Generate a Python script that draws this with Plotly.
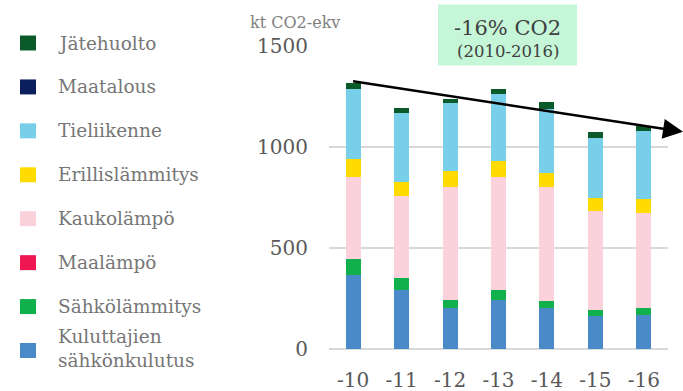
import plotly.graph_objects as go

# Emission categories (stack order bottom -> top) and yearly values, kt CO2-ekv
years = ["-10", "-11", "-12", "-13", "-14", "-15", "-16"]

kuluttajien_sahko = [368, 290, 201, 245, 201, 164, 169]
sahkolammitys = [80, 61, 41, 48, 36, 29, 32]
maalampo = [0, 0, 0, 0, 0, 0, 0]
kaukolampo = [404, 406, 561, 559, 563, 490, 474]
erillislammitys = [89, 72, 79, 78, 72, 66, 70]
tieliikenne = [347, 339, 337, 330, 317, 295, 336]
maatalous = [0, 0, 0, 0, 0, 0, 0]
jatehuolto = [31, 23, 21, 26, 33, 28, 21]

series = [
    ("Kuluttajien<br>sähkönkulutus", kuluttajien_sahko, "#4a8ac8"),
    ("Sähkölämmitys", sahkolammitys, "#10b04c"),
    ("Maalämpö", maalampo, "#ee1752"),
    ("Kaukolämpö", kaukolampo, "#fbd2dc"),
    ("Erillislämmitys", erillislammitys, "#ffdb00"),
    ("Tieliikenne", tieliikenne, "#78cfea"),
    ("Maatalous", maatalous, "#0b1f5e"),
    ("Jätehuolto", jatehuolto, "#0a5a2a"),
]

y_ticks = [0, 500, 1000, 1500]

W, H = 683, 391
L, R, T, B = 329, 15, 45.5, 42
PW, PH = W - L - R, H - T - B


def px_x(px):
    return (px - L) / PW


def px_y(py):
    return (H - B - py) / PH


SERIF = "DejaVu Serif"

fig = go.Figure()
for name, vals, color in series:
    fig.add_trace(go.Bar(
        x=years, y=vals, name=name,
        marker=dict(color=color, line=dict(width=0)),
        showlegend=False,
    ))

# Legend drawn as swatches + labels, top entry = top of stack
legend_top = 42.5
legend_step = 44
for i, (name, vals, color) in enumerate(reversed(series)):
    cy = legend_top + i * legend_step
    fig.add_shape(type="rect", xref="paper", yref="paper",
                  x0=px_x(20), x1=px_x(36), y0=px_y(cy + 7.5), y1=px_y(cy - 7.5),
                  fillcolor=color, line=dict(width=0), layer="above")
    ty = cy - 2.5 if "<br>" in name else cy
    fig.add_annotation(xref="paper", yref="paper", x=px_x(56), y=px_y(ty),
                       text=name, showarrow=False, xanchor="left", yanchor="middle",
                       align="left",
                       font=dict(family=SERIF, size=18.5, color="#767676"))

# Unit label
fig.add_annotation(xref="paper", yref="paper", x=px_x(248), y=px_y(21.5),
                   text="kt CO2-ekv", showarrow=False, xanchor="left", yanchor="middle",
                   font=dict(family=SERIF, size=16, color="#808080"))

# Change box
fig.add_shape(type="rect", xref="paper", yref="paper",
              x0=px_x(438), x1=px_x(577), y0=px_y(65), y1=px_y(4),
              fillcolor="#c6f6d8", line=dict(width=0), layer="above")
fig.add_annotation(xref="paper", yref="paper", x=px_x(507.5), y=px_y(27),
                   text="-16% CO2", showarrow=False, xanchor="center", yanchor="middle",
                   font=dict(family=SERIF, size=21, color="#404040"))
fig.add_annotation(xref="paper", yref="paper", x=px_x(507.5), y=px_y(51),
                   text="(2010-2016)", showarrow=False, xanchor="center", yanchor="middle",
                   font=dict(family=SERIF, size=16.5, color="#404040"))

# Trend arrow
fig.add_annotation(xref="x domain", yref="y domain", axref="x domain", ayref="y domain",
                   x=px_x(683), y=px_y(131.5), ax=px_x(351.5), ay=px_y(80.5),
                   text="", showarrow=True, arrowhead=2, arrowsize=1.6,
                   arrowwidth=2.5, arrowcolor="#000000", standoff=0, startstandoff=0)

fig.update_layout(
    width=W, height=H,
    margin=dict(l=L, r=R, t=T, b=B, autoexpand=False),
    barmode="stack", bargap=0.69,
    plot_bgcolor="white", paper_bgcolor="white",
    font=dict(family=SERIF, color="#595959"),
    xaxis=dict(showgrid=False, showline=False, ticks="", automargin=False,
               tickfont=dict(family=SERIF, size=20, color="#595959"),
               ticklabelstandoff=17),
    yaxis=dict(range=[0, 1500], tickvals=y_ticks, showgrid=True, automargin=False,
               gridcolor="#d9d9d9", gridwidth=1.5, zeroline=True,
               zerolinecolor="#d9d9d9", zerolinewidth=1.5, showline=False,
               ticks="", tickfont=dict(family=SERIF, size=20, color="#595959"),
               ticklabelstandoff=20),
)

fig.write_html("out.html")
